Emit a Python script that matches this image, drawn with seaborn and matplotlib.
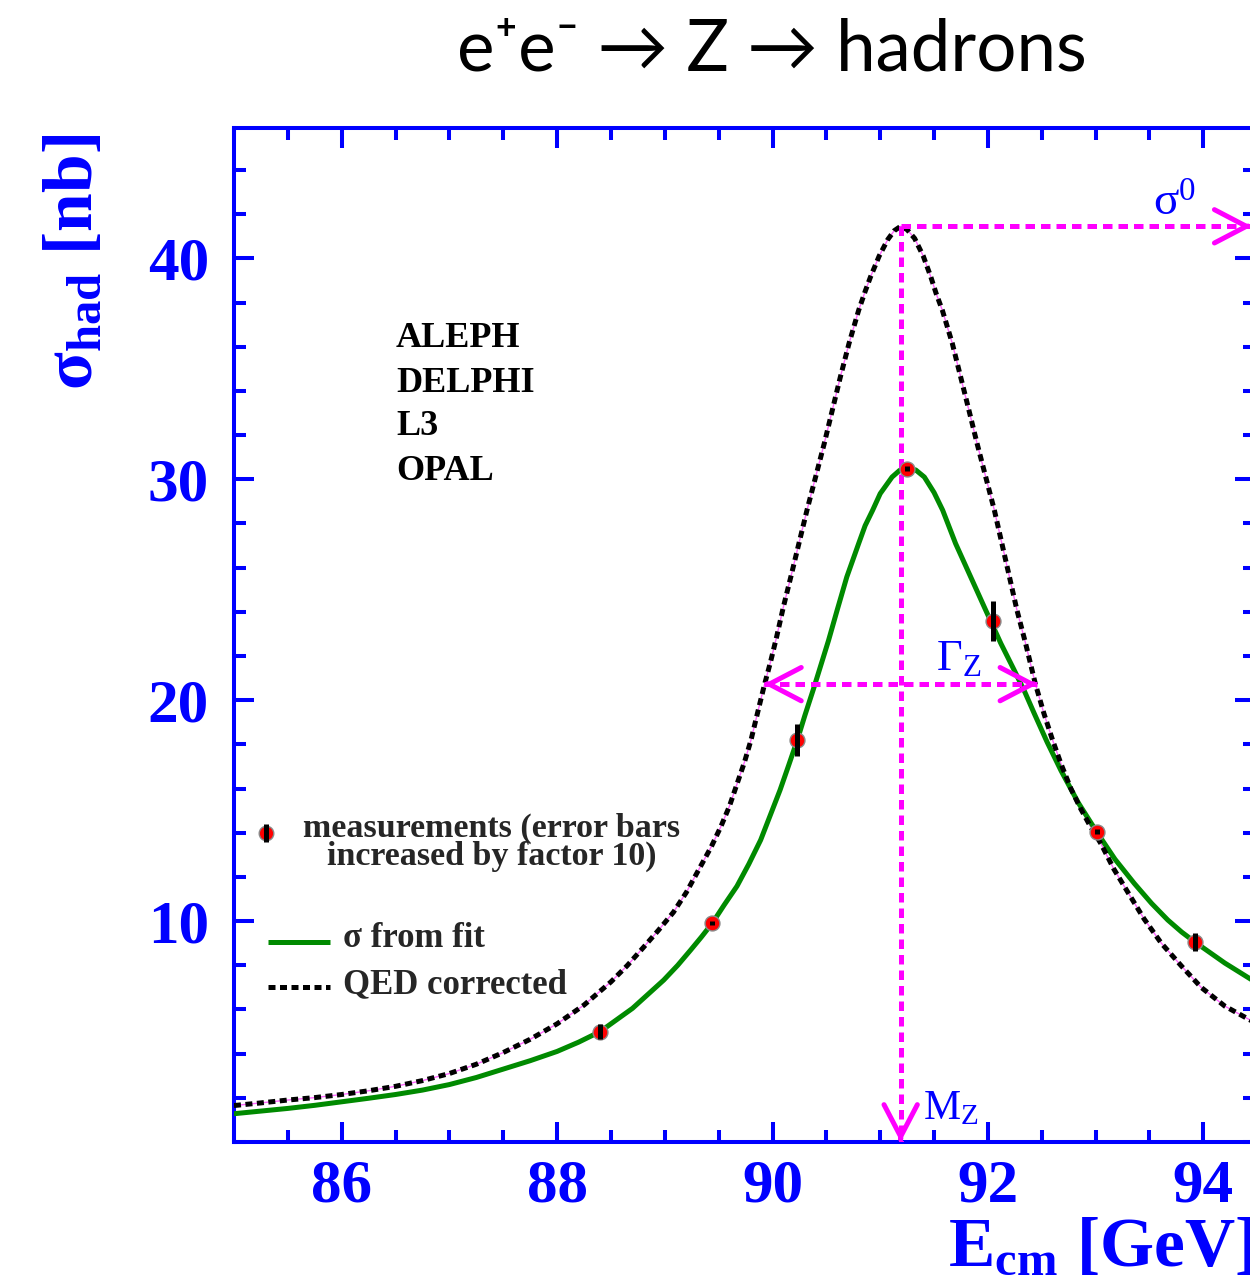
import numpy as np
import pandas as pd
import matplotlib
matplotlib.use("Agg")
import matplotlib.pyplot as plt
from matplotlib.ticker import MultipleLocator, FixedLocator
import seaborn as sns

# --- hadronic cross section around the Z pole -------------------------------
# QED-corrected (Born level) line shape
qed_energy = [85.0, 85.25, 85.5, 85.75, 86.0, 86.25, 86.5, 86.75, 87.0, 87.25,
              87.5, 87.75, 88.0, 88.25, 88.5, 88.65, 88.8, 88.94, 89.08, 89.2,
              89.33, 89.43, 89.52, 89.6, 89.67, 89.74, 89.80, 89.86, 89.92,
              89.98, 90.04, 90.10, 90.17, 90.245, 90.32, 90.40, 90.48, 90.555,
              90.63, 90.71, 90.80, 90.86, 90.91, 90.99, 91.07, 91.13, 91.19,
              91.25, 91.32, 91.40, 91.47, 91.52, 91.577, 91.67, 91.747, 91.824,
              91.90, 91.98, 92.06, 92.13, 92.20, 92.27, 92.35, 92.44, 92.52,
              92.60, 92.68, 92.77, 92.86, 92.95, 93.05, 93.17, 93.30, 93.45,
              93.61, 93.80, 93.98, 94.2, 94.48]
qed_sigma = [1.65, 1.77, 1.90, 2.01, 2.15, 2.32, 2.52, 2.78, 3.10, 3.52,
             4.05, 4.65, 5.35, 6.20, 7.25, 7.98, 8.80, 9.58, 10.40, 11.30,
             12.46, 13.35, 14.27, 15.20, 16.20, 17.20, 18.19, 19.40, 20.60,
             21.70, 22.90, 24.20, 25.58, 27.09, 28.60, 30.10, 31.61, 33.12,
             34.63, 36.14, 37.65, 38.50, 39.16, 40.10, 40.85, 41.25, 41.45,
             41.30, 40.90, 40.10, 39.16, 38.40, 37.65, 36.14, 34.63, 33.12,
             31.61, 30.10, 28.60, 27.09, 25.58, 24.07, 22.57, 20.75, 19.40,
             18.20, 17.10, 16.00, 15.10, 14.30, 13.50, 12.35, 11.30, 10.10,
             9.00, 7.95, 7.00, 6.15, 5.40]

# fitted cross section including initial-state radiation
fit_energy = [85.0, 85.25, 85.5, 85.75, 86.0, 86.25, 86.5, 86.75, 87.0, 87.25,
              87.5, 87.75, 88.0, 88.2, 88.4, 88.7, 88.99, 89.12, 89.24, 89.34,
              89.44, 89.55, 89.67, 89.78, 89.89, 89.98, 90.07, 90.15, 90.23,
              90.30, 90.38, 90.45, 90.52, 90.60, 90.69, 90.80, 90.86, 90.93,
              91.0, 91.11, 91.18, 91.25, 91.33, 91.41, 91.50, 91.58, 91.70,
              91.84, 91.98, 92.12, 92.24, 92.34, 92.43, 92.55, 92.68, 92.84,
              93.01, 93.18, 93.36, 93.52, 93.67, 93.80, 93.92, 94.2, 94.48]
fit_sigma = [1.28, 1.40, 1.52, 1.66, 1.82, 1.98, 2.15, 2.35, 2.60, 2.92,
             3.30, 3.68, 4.10, 4.52, 5.00, 6.05, 7.33, 8.00, 8.69, 9.28,
             9.90, 10.72, 11.58, 12.58, 13.67, 14.80, 15.93, 17.05, 18.19,
             19.30, 20.50, 21.60, 22.70, 24.07, 25.58, 27.09, 27.90, 28.60,
             29.35, 30.10, 30.40, 30.50, 30.42, 30.10, 29.40, 28.60, 27.09,
             25.58, 24.07, 22.57, 21.40, 20.40, 19.40, 18.10, 16.80, 15.35,
             14.04, 12.80, 11.70, 10.80, 10.05, 9.50, 9.06, 8.10, 7.25]

# combined LEP measurements (errors scaled up by a factor 10)
meas_energy = [88.40, 89.44, 90.23, 91.25, 92.05, 93.01, 93.92]
meas_sigma = [5.00, 9.92, 18.20, 30.48, 23.60, 14.04, 9.06]
meas_error = [0.36, 0.10, 0.74, 0.12, 0.90, 0.12, 0.42]

# line-shape parameters marked on the plot
M_Z = 91.19
SIGMA0 = 41.45
GAMMA_Z = 2.54

experiments = ["ALEPH", "DELPHI", "L3", "OPAL"]

qed_df = pd.DataFrame({"E": qed_energy, "sigma": qed_sigma})
fit_df = pd.DataFrame({"E": fit_energy, "sigma": fit_sigma})
meas_df = pd.DataFrame({"E": meas_energy, "sigma": meas_sigma, "err": meas_error})

# --- style ---------------------------------------------------------------
sns.set_theme(style="white")
plt.rcParams["font.family"] = ["Liberation Serif", "DejaVu Serif"]
plt.rcParams["mathtext.fontset"] = "custom"
plt.rcParams["mathtext.rm"] = "Liberation Serif"
plt.rcParams["mathtext.it"] = "Liberation Serif:italic"
plt.rcParams["mathtext.bf"] = "Liberation Serif:bold"

BLUE = "#0000ff"
MAGENTA = "#ff00ff"
GREEN = "#008a00"
QED_DASH = (0, (1.4, 0.9))

fig = plt.figure(figsize=(12.5, 12.85), dpi=100)
fig.patch.set_facecolor("white")
ax = fig.add_axes([234 / 1250, 143 / 1285, 1021 / 1250, 1014 / 1285])
ax.set_facecolor("white")

# curves
sns.lineplot(data=qed_df, x="E", y="sigma", ax=ax, color="#ff66ff",
             linewidth=1.0, sort=False, estimator=None, zorder=2)
sns.lineplot(data=fit_df, x="E", y="sigma", ax=ax, color=GREEN,
             linewidth=3.6, sort=False, estimator=None, zorder=3)
sns.lineplot(data=qed_df, x="E", y="sigma", ax=ax, color="black",
             linewidth=3.6, linestyle=QED_DASH, sort=False,
             estimator=None, zorder=4)

# peak position / height / width indicators
dash = (0, (1.9, 1.2))
ax.plot([M_Z, M_Z], [SIGMA0, 0.0], color=MAGENTA, lw=3.6, linestyle=dash,
        zorder=5)
ax.plot([M_Z, 94.45], [SIGMA0, SIGMA0], color=MAGENTA, lw=3.6, linestyle=dash,
        zorder=5)
half = SIGMA0 / 2
ax.plot([M_Z - GAMMA_Z / 2, M_Z + GAMMA_Z / 2], [half, half], color=MAGENTA,
        lw=3.6, linestyle=dash, zorder=5)

head = dict(arrowstyle="->,head_length=1.15,head_width=0.6", color=MAGENTA,
            lw=3.6, mutation_scale=20, shrinkA=0, shrinkB=0)
for tip, off in [((M_Z, 0.0), (0, 3)), ((94.45, SIGMA0), (-3, 0)),
                 ((M_Z - GAMMA_Z / 2, half), (3, 0)),
                 ((M_Z + GAMMA_Z / 2, half), (-3, 0))]:
    ax.annotate("", xy=tip, xytext=off, textcoords="offset points",
                arrowprops=head, annotation_clip=False, zorder=5)

ax.text(93.53, 41.95, r"$\mathrm{\sigma^{0}}$", color=BLUE, fontsize=34, zorder=6)
ax.text(91.515, 21.36, r"$\mathrm{\Gamma_{Z}}$", color=BLUE, fontsize=32, zorder=6)
ax.text(91.40, 1.04, r"$\mathrm{M_{Z}}$", color=BLUE, fontsize=30, zorder=6)

# measurements
sns.scatterplot(data=meas_df, x="E", y="sigma", ax=ax, color="red", s=115,
                edgecolor="#8a8a8a", linewidth=1.0, zorder=7)
ax.errorbar(meas_df["E"], meas_df["sigma"], yerr=meas_df["err"], fmt="none",
            ecolor="black", elinewidth=3.6, capsize=0, zorder=8)

# experiment names
for name, yb in zip(experiments, [0.784, 0.7396, 0.6972, 0.6529]):
    ax.text(0.1587, yb, name, transform=ax.transAxes, fontsize=26,
            fontweight="bold", color="black", va="baseline")

# legend
tA = ax.transAxes
ax.plot([0.0313], [0.3047], transform=tA, marker="o", markersize=10.5,
        color="red", markeredgecolor="#8a8a8a", clip_on=False, zorder=7)
ax.plot([0.0313, 0.0313], [0.296, 0.3135], transform=tA, color="black",
        lw=3.6, solid_capstyle="butt", zorder=8)
ax.text(0.2527, 0.3010, "measurements (error bars", transform=tA,
        fontsize=24.5, fontweight="bold", ha="center", va="baseline")
ax.text(0.2527, 0.2730, "increased by factor 10)", transform=tA,
        fontsize=24.5, fontweight="bold", ha="center", va="baseline")
ax.plot([0.0333, 0.0940], [0.1972, 0.1972], transform=tA, color=GREEN, lw=3.6,
        solid_capstyle="butt")
ax.text(0.1068, 0.1923, "σ from fit", transform=tA, fontsize=25,
        fontweight="bold", va="baseline")
ax.plot([0.0333, 0.0940], [0.1529, 0.1529], transform=tA, color="black",
        lw=3.6, linestyle=QED_DASH)
ax.text(0.1068, 0.1469, "QED corrected", transform=tA, fontsize=25,
        fontweight="bold", va="baseline")

# axes
ax.set_xlim(85.0, 94.48)
ax.set_ylim(0.0, 45.9)
ax.xaxis.set_major_locator(MultipleLocator(2))
ax.xaxis.set_minor_locator(MultipleLocator(0.5))
ax.yaxis.set_major_locator(FixedLocator([10, 20, 30, 40]))
ax.yaxis.set_minor_locator(MultipleLocator(2))
ax.set_xlabel("")
ax.set_ylabel("")
for sp in ax.spines.values():
    sp.set_visible(True)
    sp.set_color(BLUE)
    sp.set_linewidth(2.9)
ax.tick_params(which="both", direction="in", color=BLUE, width=2.9,
               top=True, right=True, bottom=True, left=True)
ax.tick_params(which="major", length=14.5)
ax.tick_params(which="minor", length=8.5)
ax.tick_params(axis="x", which="major", pad=12, labelsize=44, labelcolor=BLUE)
ax.tick_params(axis="y", which="major", pad=18, labelsize=44, labelcolor=BLUE)
for lab in ax.get_xticklabels() + ax.get_yticklabels():
    lab.set_fontweight("bold")

fig.text(74 / 1250, 1 - 262 / 1285, r"$\mathbf{\sigma_{had}}$ [nb]",
         rotation=90, ha="center", va="center", color=BLUE, fontsize=50,
         fontweight="bold")
fig.text(948 / 1250, 1 - 1265 / 1285, r"$\mathbf{E_{cm}}$ [GeV]",
         ha="left", va="baseline", color=BLUE, fontsize=50, fontweight="bold")

fig.text(772 / 1250, 1 - 50 / 1285, "e\u207ae\u207b \u2192 Z \u2192 hadrons",
         ha="center", va="center", fontsize=51, color="black",
         family=["Lato", "DejaVu Sans"])

fig.savefig("out.png", dpi=100, facecolor="white")
